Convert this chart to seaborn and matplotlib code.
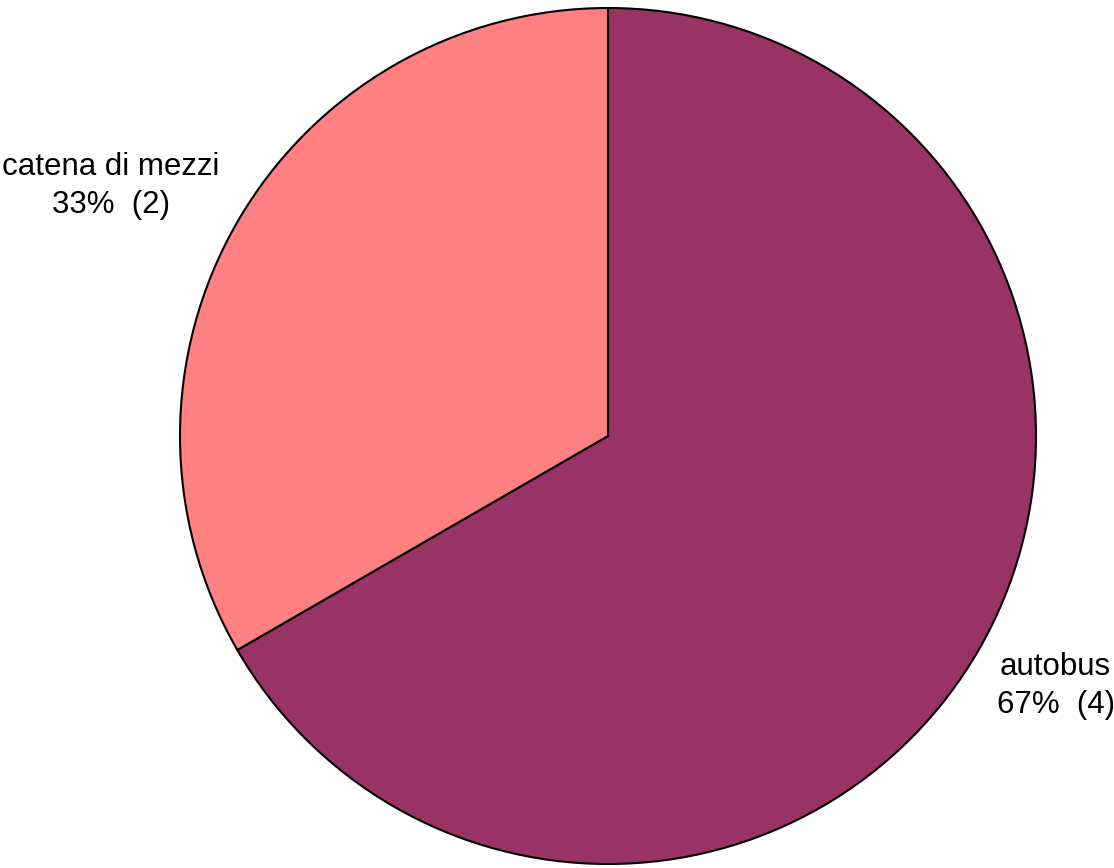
import numpy as np
import seaborn as sns
import matplotlib.pyplot as plt

categorie = ["autobus", "catena di mezzi"]
conteggi = [4, 2]
colori = ["#993366", "#FF8080"]

sns.set_theme(style="white")
plt.rcParams['font.family'] = ['Liberation Sans', 'DejaVu Sans']

fig = plt.figure(figsize=(11.14, 8.68), dpi=100)
ax = fig.add_axes([0, 0, 1, 1])

totale = sum(conteggi)
wedges, _ = ax.pie(conteggi, colors=colori, startangle=90, counterclock=False,
                   wedgeprops={'edgecolor': 'black', 'linewidth': 1.5})

for w, nome, n in zip(wedges, categorie, conteggi):
    mid = np.deg2rad((w.theta1 + w.theta2) / 2 - 2.8)
    x, y = 1.08 * np.cos(mid), 1.08 * np.sin(mid)
    ax.text(x, y, f"{nome}\n{round(100 * n / totale)}%  ({n})",
            ha='right' if x < 0 else 'left', va='center', ma='center',
            fontsize=22.5, color='black', linespacing=1.35)

# scala: raggio 428 px, centro a (608, 436)
ax.set_xlim(-608 / 428, (1114 - 608) / 428)
ax.set_ylim(-(868 - 436) / 428, 436 / 428)
ax.set_aspect('auto')
ax.axis('off')

fig.savefig("out.png", dpi=100, facecolor='white')
